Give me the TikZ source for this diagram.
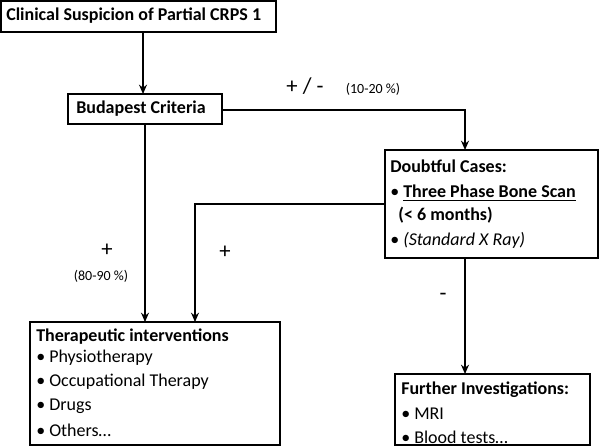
\documentclass[tikz,border=0pt]{standalone}
\usepackage{fontspec}
\setmainfont{Carlito}
\usetikzlibrary{arrows.meta}
\begin{document}
\begin{tikzpicture}[x=0.75pt,y=-0.75pt,
  box/.style={draw,line width=1.1pt,inner sep=0pt},
  arr/.style={-{Stealth[length=7pt,width=6pt]},line width=1.1pt},
  txt/.style={font=\fontsize{13.5}{16}\selectfont,anchor=west,inner sep=0pt},
  btxt/.style={font=\fontsize{13.5}{16}\selectfont\bfseries,anchor=west,inner sep=0pt},
  lbl/.style={font=\fontsize{17}{19}\selectfont,inner sep=0pt},
  sml/.style={font=\fontsize{10.5}{12}\selectfont,inner sep=0pt}]
\useasboundingbox (0,0) rectangle (600,446);
\fill[white] (0,0) rectangle (600,446);
\draw[box] (1,1) rectangle (276,32);
\node[btxt] (t) at (6,16) {Clinical Suspicion of Partial CRPS 1};
\coordinate (tb) at (143,32);
\draw[box] (68,94) rectangle (222,124);
\node[btxt] (b) at (76,109) {Budapest Criteria};
\coordinate (btop) at (143,94);
\coordinate (bbot) at (145,124);
\coordinate (bright) at (222,110);
\draw[box] (385,150) rectangle (598,258);
\node[btxt] (d1) at (390,166) {Doubtful Cases:};
\node[txt] (d2) at (390,193) {• \textbf{\underline{Three Phase Bone Scan}}};
\node[txt] (d3) at (390,215) {\ \ \textbf{(< 6 months)}};
\node[txt] (d4) at (390,240) {• \textit{(Standard X Ray)}};
\coordinate (dtop) at (465,150);
\coordinate (dleft) at (385,204);
\coordinate (dbot) at (465,258);
\draw[box] (30,322) rectangle (280,445);
\node[btxt] (th) at (36,337) {Therapeutic interventions};
\node[txt] (th1) at (36,358) {• Physiotherapy};
\node[txt] (th2) at (36,382) {• Occupational Therapy};
\node[txt] (th3) at (36,406) {• Drugs};
\node[txt] (th4) at (36,430) {• Others…};
\coordinate (thA) at (145,322);
\coordinate (thB) at (195,322);
\draw[box] (395,374) rectangle (590,445);
\node[btxt] (f) at (401,390) {Further Investigations:};
\node[txt] (f1) at (401,414) {• MRI};
\node[txt] (f2) at (401,437) {• Blood tests…};
\coordinate (ftop) at (465,374);
\draw[arr] (tb) -- (btop);
\draw[arr] (bbot) -- (thA);
\draw[arr] (bright) -| (dtop);
\draw[arr] (dleft) -| (thB);
\draw[arr] (dbot) -- (ftop);
\node[lbl] (pm) at (305,86) {+ / -};
\node[sml] (pc) at (373,89) {(10-20 \%)};
\node[lbl] (p1) at (107,250) {+};
\node[sml] (pc2) at (101,276) {(80-90 \%)};
\node[lbl] (p2) at (225,252) {+};
\node[lbl] (m) at (443,297) {-};
\end{tikzpicture}
\end{document}
